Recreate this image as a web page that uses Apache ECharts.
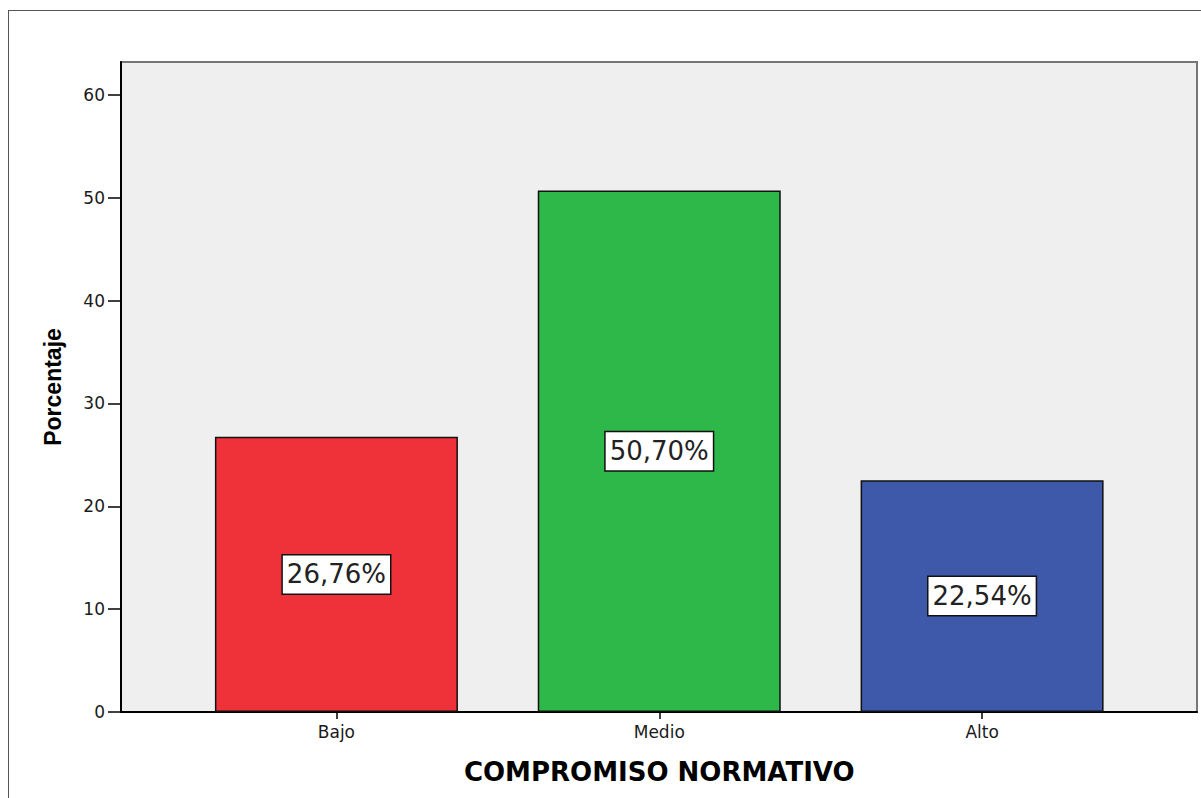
<!DOCTYPE html>
<html>
<head>
<meta charset="utf-8">
<script src="https://cdn.jsdelivr.net/npm/echarts@6/dist/echarts.min.js"></script>
<style>
  html, body { margin: 0; padding: 0; background: #fff; }
  #frame { position: absolute; left: 8px; top: 10px; width: 1300px; height: 900px;
           border-left: 1px solid #555; border-top: 1px solid #555; }
  #chart { position: absolute; left: 0; top: 0; width: 1201px; height: 798px; }
</style>
</head>
<body>
<div id="frame"></div>
<div id="chart"></div>
<script>
const categories = ['Bajo', 'Medio', 'Alto'];
const percentValues = [26.76, 50.70, 22.54];
const barColors = ['#ef3239', '#2eb84a', '#3e58aa'];
const yTickValues = [0, 10, 20, 30, 40, 50, 60];
const xTitle = 'COMPROMISO NORMATIVO';
const yTitle = 'Porcentaje';

const yMax = 63.2;
const chart = echarts.init(document.getElementById('chart'), null, { renderer: 'svg' });

const option = {
  animation: false,
  grid: [
    { left: 121, right: 4, top: 62, bottom: 86, show: true,
      backgroundColor: '#efefef', borderColor: '#767676', borderWidth: 2 },
    { left: 175, right: 57.5, top: 62, bottom: 86 }
  ],
  xAxis: [
    { gridIndex: 0, type: 'value', min: 0, max: 1,
      axisLine: { show: true, lineStyle: { color: '#000', width: 2 } },
      axisTick: { show: false }, axisLabel: { show: false }, splitLine: { show: false } },
    { gridIndex: 1, type: 'category', data: categories,
      axisLine: { show: false },
      axisTick: { show: true, alignWithLabel: true, length: 7, lineStyle: { color: '#000', width: 1.5 } },
      axisLabel: { margin: 11, fontFamily: 'DejaVu Sans', fontSize: 17, color: '#1a1a1a' },
      name: xTitle, nameLocation: 'middle', nameGap: 47,
      nameTextStyle: { fontFamily: 'DejaVu Sans', fontWeight: 'bold', fontSize: 26, color: '#000' } }
  ],
  yAxis: [
    { gridIndex: 0, type: 'value', min: 0, max: yMax, interval: 10,
      axisLine: { show: true, lineStyle: { color: '#000', width: 2 } },
      axisTick: { show: true, length: 13, customValues: yTickValues, lineStyle: { color: '#000', width: 1.5 } },
      axisLabel: { customValues: yTickValues, margin: 16, fontFamily: 'DejaVu Sans', fontSize: 17, color: '#1a1a1a' },
      splitLine: { show: false },
      name: yTitle, nameLocation: 'middle', nameGap: 57, nameRotate: 90,
      nameTextStyle: { fontFamily: 'Liberation Sans', fontWeight: 'bold', fontSize: 23, color: '#000' } },
    { gridIndex: 1, type: 'value', min: 0, max: yMax, interval: 10, show: false,
      splitLine: { show: false } }
  ],
  series: [{
    type: 'bar',
    xAxisIndex: 1, yAxisIndex: 1,
    barWidth: 243,
    data: percentValues.map((v, i) => ({ value: v, itemStyle: { color: barColors[i] } })),
    itemStyle: { borderColor: '#111', borderWidth: 1.5 },
    label: {
      show: true, position: 'inside',
      formatter: p => p.value.toFixed(2).replace('.', ',') + '%',
      fontFamily: 'DejaVu Sans', fontSize: 26, color: '#222',
      lineHeight: 32, backgroundColor: '#fff', borderColor: '#111', borderWidth: 1.5,
      padding: [3, 4, 3, 4]
    }
  }]
};
chart.setOption(option);
</script>
</body>
</html>
